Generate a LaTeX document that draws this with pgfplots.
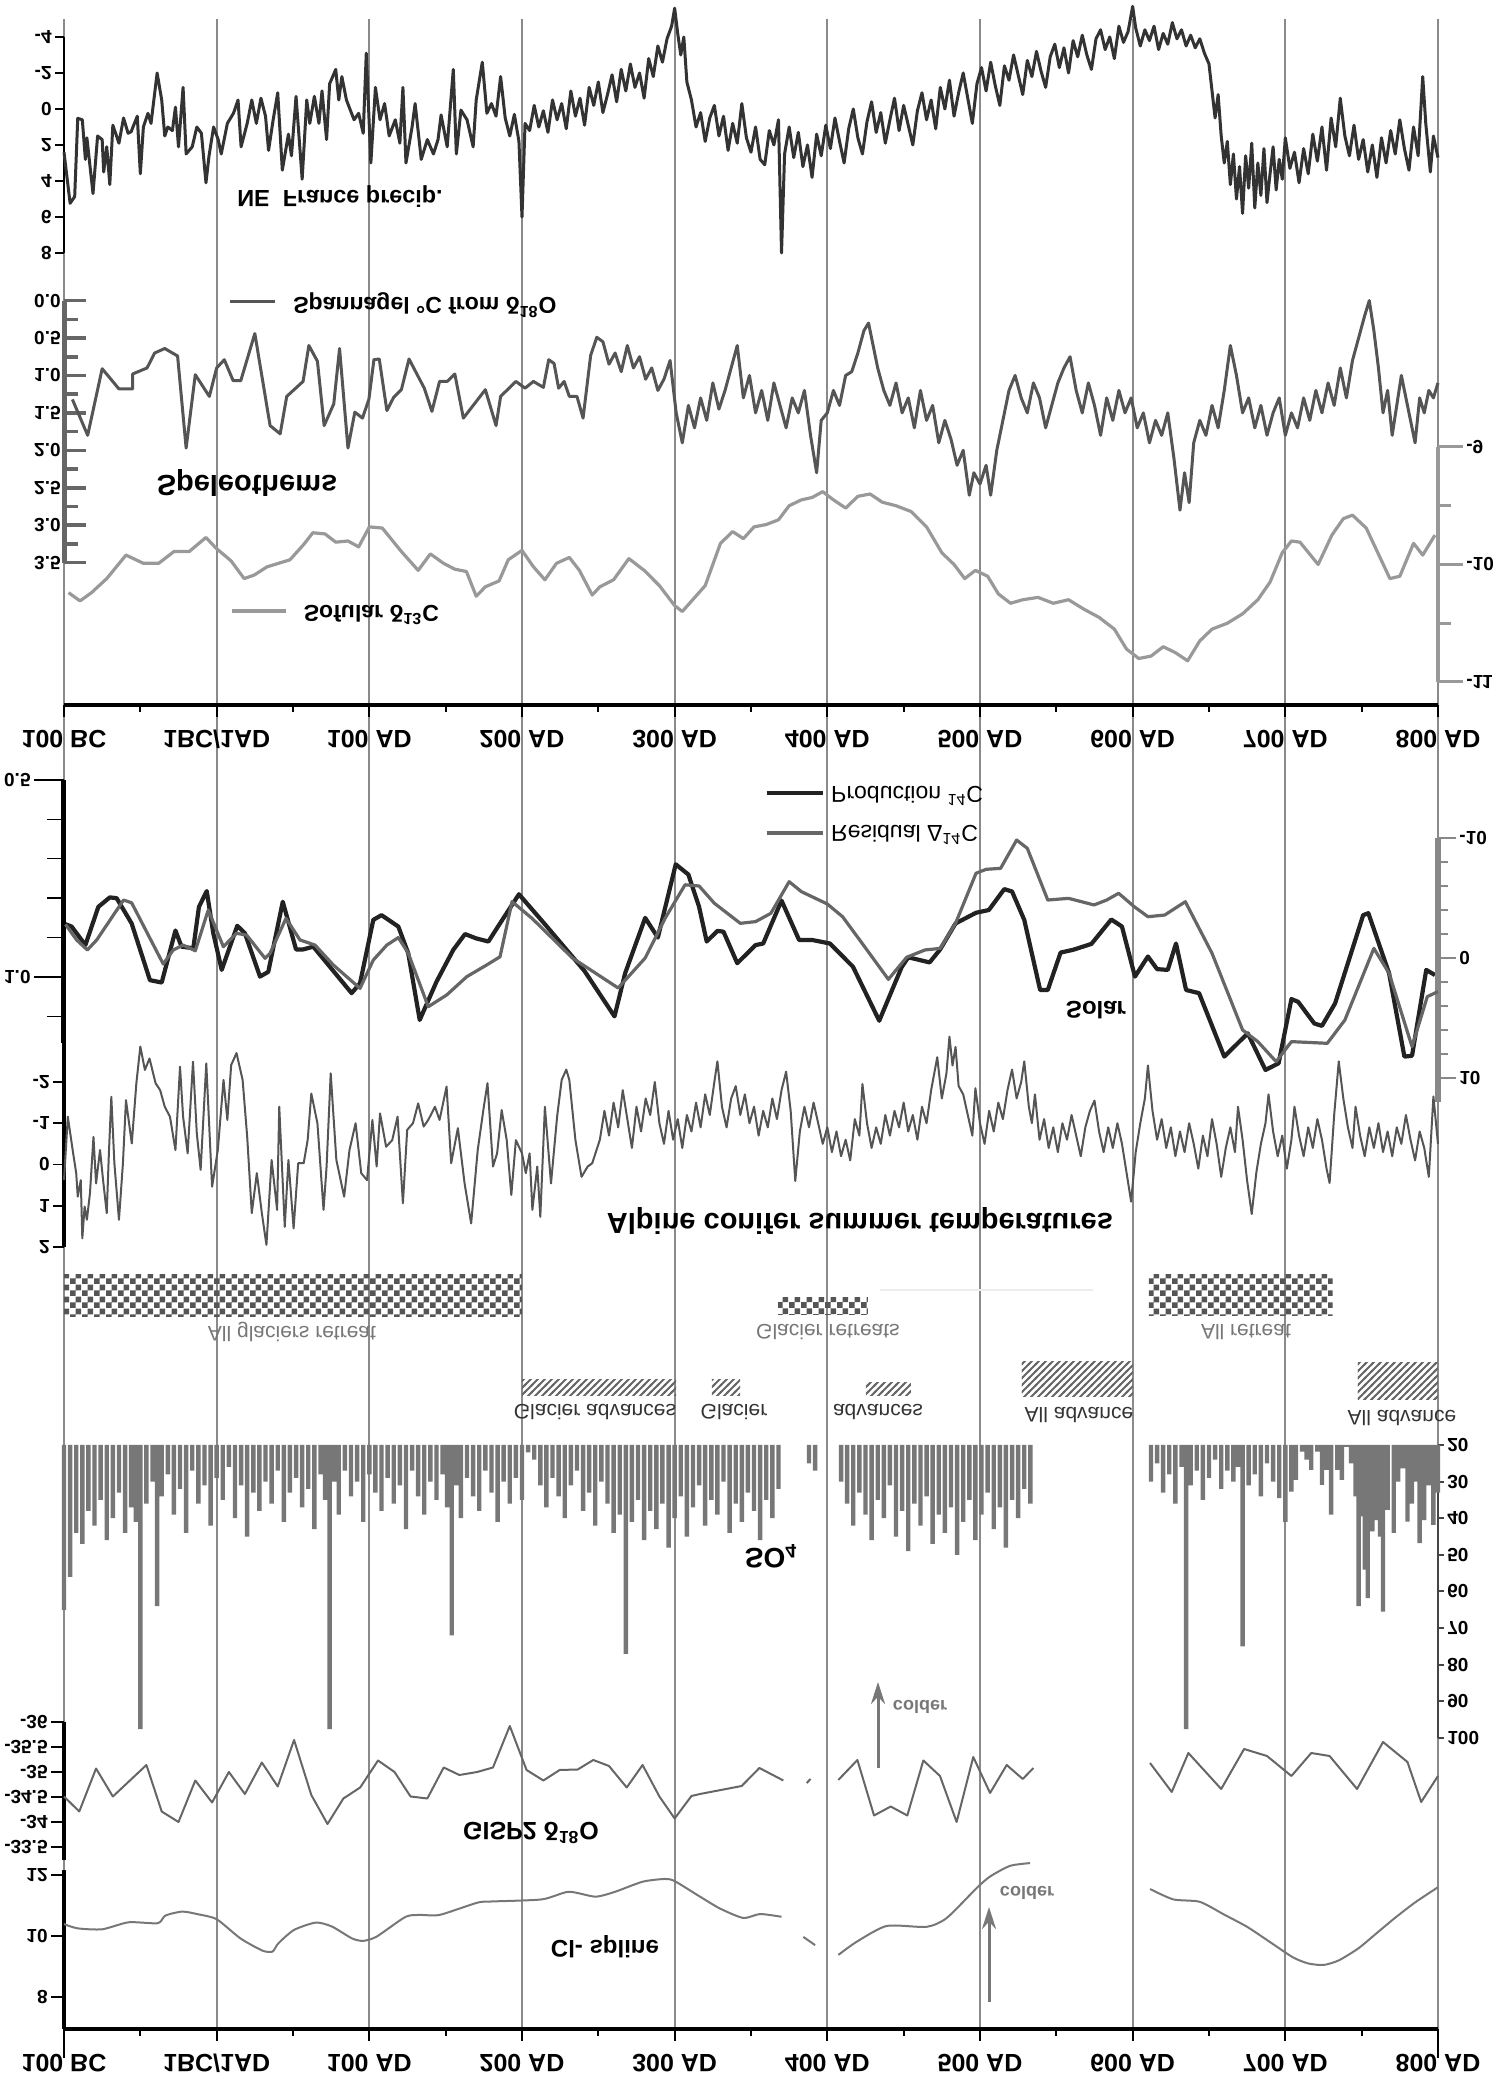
\documentclass[border=0pt]{standalone}
\usepackage{fontspec}
\setmainfont{Liberation Sans}
\usepackage{graphicx}
\usepackage{pgfplots}
\pgfplotsset{compat=1.18}
\usetikzlibrary{patterns,arrows.meta}
\newcommand\flip[1]{\scalebox{1}[-1]{#1}}
\newcommand\fb[1]{\bfseries\fontsize{#1}{#1}\selectfont}
\newcommand\fr[1]{\fontsize{#1}{#1}\selectfont}
\definecolor{c222}{HTML}{222222}
\definecolor{c333}{HTML}{333333}
\definecolor{c444}{HTML}{444444}
\definecolor{c555}{HTML}{555555}
\definecolor{c666}{HTML}{666666}
\definecolor{c777}{HTML}{777777}
\definecolor{c888}{HTML}{888888}
\definecolor{c999}{HTML}{999999}
\definecolor{gridc}{HTML}{8A8A8A}
\pgfdeclarepatternformonly{gchecker}{\pgfpointorigin}{\pgfqpoint{5.8pt}{5.8pt}}{\pgfqpoint{5.8pt}{5.8pt}}{%
  \pgfpathrectangle{\pgfpointorigin}{\pgfqpoint{2.9pt}{2.9pt}}%
  \pgfpathrectangle{\pgfqpoint{2.9pt}{2.9pt}}{\pgfqpoint{2.9pt}{2.9pt}}%
  \pgfusepath{fill}}
\pgfdeclarepatternformonly{ghatch}{\pgfqpoint{-1pt}{-1pt}}{\pgfqpoint{4.5pt}{4.5pt}}{\pgfqpoint{3.5pt}{3.5pt}}{%
  \pgfsetlinewidth{0.9pt}%
  \pgfpathmoveto{\pgfqpoint{-0.5pt}{-0.5pt}}\pgfpathlineto{\pgfqpoint{4pt}{4pt}}%
  \pgfusepath{stroke}}
\pgfplotsset{
  panel/.style={scale only axis, width=687pt, xmin=-100, xmax=800, clip=false,
    axis x line=none, xtick=\empty,
    yticklabel style={font=\fb{9.5}, inner sep=1.5pt}},
  xaxisstyle/.style={scale only axis, width=687pt, height=20pt, xmin=-100, xmax=800, ymin=0, ymax=1,
    axis x line*=bottom, axis y line=none, axis line style={black, line width=2pt},
    xtick={-100,0,100,200,300,400,500,600,700,800},
    xticklabels={\flip{100 BC},\flip{1BC/1AD},\flip{100 AD},\flip{200 AD},\flip{300 AD},\flip{400 AD},\flip{500 AD},\flip{600 AD},\flip{700 AD},\flip{800 AD}},
    minor xtick={-50,50,150,250,350,450,550,650,750},
    tick align=outside, major tick length=6pt, minor tick length=3.5pt,
    tick style={black, line width=1pt},
    xticklabel style={font=\fb{12.5}, anchor=center, yshift=-11pt}},
}
\begin{document}
\begin{tikzpicture}[x=0.5pt,y=0.5pt]
\useasboundingbox (0,0) rectangle (1503,2085);

% background vertical grid
\begin{axis}[scale only axis, width=687pt, height=1005pt, at={(32pt,28pt)}, anchor=south west,
  xmin=-100, xmax=800, ymin=0, ymax=1, xtick={-100,0,100,200,300,400,500,600,700,800},
  xticklabels={}, ytick=\empty, xmajorgrids, major grid style={color=gridc, line width=1pt},
  axis line style={draw=none}, tick style={draw=none}]
\end{axis}

% NE France precipitation
\begin{axis}[panel, at={(32pt,1024pt)}, anchor=north west, height=108pt,
  ymin=-4, ymax=8, y dir=reverse, axis y line*=left, axis line style={black, line width=1pt},
  ytick={-4,-2,0,2,4,6,8}, yticklabels={\flip{-4},\flip{-2},\flip{0},\flip{2},\flip{4},\flip{6},\flip{8}},
  tick align=outside, major tick length=4.5pt, tick style={black, line width=0.8pt}]
\addplot[c333, line width=1.5pt, line join=round] coordinates {
(-100,2.4) (-96,5.24) (-93,4.87) (-91,0.52) (-88,0.6) (-86,2.8) (-85,1.6) (-81,4.7) (-78,1.5) (-75,1.7) (-74,3.5) (-72,2.1) (-70,4.2) (-68,0.9) (-64,1.9) (-61,0.5) (-58,1.35) (-56,1.26) (-52,0.4) (-50,3.6) (-48,1.0) (-45,0.24) (-43,0.8) (-39,-2.0) (-36,-0.5) (-34,1.5) (-32,1.0) (-29,1.2) (-27,-0.1) (-25,2.1) (-22,-1.2) (-20,2.5) (-16,2.1) (-13,1.0) (-10,1.35) (-7,4.1) (-5,2.6) (-2,1.0) (1,1.7) (3,2.5) (7,0.8) (11,0.24) (14,-0.5) (16,2.1) (20,0.8) (23,-0.5) (26,0.8) (29,-0.6) (32,0.4) (34,2.3) (37,0.6) (40,-0.9) (43,3.4) (47,1.4) (49,2.6) (52,-0.7) (56,3.9) (59,-0.5) (61,0.8) (64,-0.7) (67,0.8) (69,-1.0) (72,1.7) (74,-1.4) (78,-2.2) (80,-0.5) (82,-1.8) (85,-0.5) (90,0.6) (93,0.24) (96,1.35) (98,-3.1) (101,3.0) (104,-1.2) (107,0.6) (110,-0.3) (113,1.5) (117,0.6) (120,1.9) (122,-1.2) (124,3.0) (128,1.0) (130,-0.3) (134,2.8) (138,1.7) (142,2.5) (145,1.7) (147,0.33) (151,2.1) (155,-2.2) (157,2.5) (160,0.06) (164,0.6) (168,2.1) (170,-0.5) (174,-2.6) (177,0.24) (180,-0.3) (183,0.4)
(186,-1.8) (189,0.5) (192,1.5) (195,0.3) (198,1.8) (200,6.0) (202,0.8) (205,1.2) (208,-0.2) (211,1.0) (214,0.1) (217,1.3) (220,-0.5) (223,0.6) (226,-0.3) (229,1.1) (232,-1.0) (235,0.4) (238,-0.6) (241,0.9) (244,-1.2) (247,-0.2) (250,-1.5) (253,0.2) (256,-0.8) (259,-1.9) (262,-0.4) (265,-2.2) (268,-1.0) (271,-2.5) (274,-1.2) (277,-2.0) (280,-0.6) (283,-2.8) (286,-1.8) (289,-3.5) (292,-2.6) (295,-3.9) (298,-4.6) (300,-5.6) (302,-4.2) (304,-3.0) (306,-4.0) (308,-1.5) (311,-0.5) (314,1.0) (317,0.2) (320,1.8) (323,0.5) (326,-0.2) (329,1.5) (332,0.4) (335,2.3) (338,0.8) (341,1.9) (344,-0.3) (347,1.6) (350,2.4) (353,1.0) (356,2.8) (359,3.1) (362,1.2) (365,2.0) (368,0.6) (370,8.0) (372,2.5) (375,1.0) (378,2.7) (381,1.3) (384,3.2) (387,2.0) (390,3.8) (393,1.4) (396,2.6) (399,0.9) (402,2.2) (405,0.5) (408,1.8) (411,3.0) (414,1.1) (417,0.0) (420,1.6) (423,2.5) (426,0.7) (429,-0.4) (432,1.3) (435,0.2) (438,1.9) (441,0.6) (444,-0.6) (447,1.2) (450,-0.2) (453,0.9) (456,2.0) (459,0.1) (462,-0.9) (465,0.6) (468,-0.5) (471,1.1) (474,-1.2) (477,0.0) (480,-1.6) (483,0.4) (486,-0.9) (489,-2.0) (492,-0.6) (495,0.8) (498,-1.4) (501,-2.3) (504,-1.0) (507,-2.6) (510,-1.3) (513,-0.2) (516,-2.4) (519,-1.6) (522,-3.0) (525,-1.9) (528,-0.8) (531,-2.7) (534,-1.8) (537,-3.2) (540,-2.1) (543,-1.2) (546,-2.9) (549,-3.6) (552,-2.3) (555,-3.4) (558,-2.0) (561,-3.8) (564,-2.9) (567,-4.1) (570,-3.0) (573,-2.2) (576,-3.9) (579,-4.4) (582,-3.3) (585,-4.0) (588,-2.8) (591,-4.6) (594,-3.7) (597,-4.3) (600,-5.7) (602,-4.5) (605,-3.5) (608,-4.4) (611,-3.8) (614,-4.6) (617,-3.3) (620,-4.2) (623,-3.6) (626,-4.8) (629,-3.9) (632,-4.4) (635,-3.5) (638,-4.1) (641,-3.4) (644,-3.9) (647,-3.1) (650,-2.5) (652,-1.0) (654,0.5) (656,-0.8) (658,1.5) (660,3.0) (662,1.8) (664,4.2) (666,2.5) (668,5.0) (670,3.2) (672,5.8) (674,2.6) (676,4.4) (678,1.9) (680,5.5) (682,3.0) (684,4.8) (686,2.2) (688,5.2) (690,3.6) (692,2.1) (694,4.5) (696,2.8) (698,3.9) (700,1.6) (703,3.3) (706,2.4) (709,4.1) (712,2.2) (715,3.6) (718,1.4) (721,2.9) (724,1.0) (727,3.4) (730,0.5) (733,2.1) (736,-0.6) (739,1.5) (742,2.6) (745,0.9) (748,2.8) (751,1.7) (754,3.5) (757,2.0) (760,3.8) (763,1.6) (766,3.0) (769,1.2) (772,2.5) (775,0.6) (778,2.2) (781,3.4) (784,1.0) (787,2.6) (790,-1.8) (792,0.8) (795,3.5) (797,1.5) (800,2.7)};
\end{axis}

% Spannagel
\begin{axis}[panel, at={(32pt,892.2pt)}, anchor=north west, height=131pt,
  ymin=0, ymax=3.5, y dir=reverse, axis y line*=left, axis line style={c666, line width=2.5pt},
  ytick={0,0.5,1,1.5,2,2.5,3,3.5},
  yticklabels={\flip{0.0},\flip{0.5},\flip{1.0},\flip{1.5},\flip{2.0},\flip{2.5},\flip{3.0},\flip{3.5}},
  minor ytick={0.25,0.75,1.25,1.75,2.25,2.75,3.25},
  tick align=inside, major tick length=11pt, minor tick length=7pt, tick style={c666, line width=1.8pt}]
\addplot[c555, line width=1.5pt, line join=round] coordinates {
(-94.5,1.32) (-84.5,1.80) (-75,0.91) (-64,1.18) (-55,1.18) (-55,0.98) (-45.6,0.90) (-40.6,0.70) (-34,0.64) (-25.6,0.74) (-20,1.97) (-14,0.99) (-4.8,1.28) (0,0.9) (5,0.79) (10.8,1.07) (15.8,1.07) (25,0.44) (35,1.67) (41.6,1.78) (45.9,1.28) (56.6,1.08) (60.4,0.60) (66,0.81) (70.4,1.67) (76.7,1.38) (80.5,0.64) (86,1.97) (90.5,1.49) (95.5,1.57) (99.7,1.32) (103,0.79) (106.5,0.78) (111.5,1.47) (116,1.29) (121,1.19) (126,0.78) (136,1.17) (141,1.48) (146,1.08) (151,1.08) (156,0.98) (161.6,1.57) (176,1.19) (183,1.67) (186,1.28) (196,1.08) (202,1.17) (207.5,1.08) (214,1.16) (217.5,0.79) (221,0.84) (224,1.17) (227.6,1.08) (231,1.28) (236,1.28) (240,1.57) (245,0.73) (249,0.49)
(253,0.55) (257,0.85) (261,0.7) (265,0.95) (269,0.6) (273,0.9) (277,0.75) (281,1.05) (285,0.9) (289,1.2) (293,1.05) (297,0.8) (301,1.5) (305,1.9) (309,1.4) (313,1.7) (317,1.3) (321,1.6) (325,1.1) (329,1.45) (333,1.2) (337,0.9) (341,0.6) (345,1.3) (349,1.0) (353,1.5) (357,1.2) (361,1.6) (365,1.1) (369,1.4) (373,1.7) (377,1.3) (381,1.5) (385,1.2) (389,1.8) (393,2.3) (396,1.6) (400,1.5) (404,1.2) (408,1.4) (412,1.0) (416,0.95) (420,0.7) (424,0.4) (427,0.3) (430,0.6) (433,0.9) (437,1.2) (441,1.4) (445,1.1) (449,1.5) (453,1.3) (457,1.7) (461,1.2) (465,1.6) (469,1.4) (473,1.9) (477,1.6) (481,1.85) (485,2.2) (489,2.0) (493,2.6) (496,2.3) (500,2.45) (504,2.2) (507,2.6) (511,2.0) (515,1.6) (519,1.2) (523,1.0) (527,1.3) (531,1.5) (535,1.1) (539,1.3) (543,1.7) (547,1.4) (551,1.1) (555,0.9) (559,0.75) (563,1.2) (567,1.5) (571,1.1) (575,1.4) (579,1.8) (583,1.3) (587,1.6) (591,1.2) (595,1.5) (599,1.3) (603,1.7) (607,1.5) (611,1.9) (615,1.6) (619,1.8) (623,1.5) (627,2.1) (631,2.8) (634,2.3) (637,2.7) (640,1.9) (644,1.6) (648,1.8) (652,1.4) (656,1.7) (660,1.2) (664,0.6) (668,1.0) (672,1.5) (676,1.3) (680,1.7) (684,1.4) (688,1.8) (692,1.5) (696,1.3) (700,1.8) (704,1.5) (708,1.7) (712,1.3) (716,1.6) (720,1.2) (724,1.5) (728,1.1) (732,1.4) (736,0.9) (740,1.3) (744,0.8) (748,0.5) (752,0.2) (755,0.0) (758,0.4) (761,0.9) (764,1.5) (767,1.2) (770,1.8) (773,1.4) (776,1.0) (779,1.3) (782,1.6) (785,1.9) (788,1.3) (791,1.5) (794,1.2) (797,1.3) (800,1.1)};
\end{axis}

% Sofular
\begin{axis}[panel, at={(32pt,819pt)}, anchor=north west, height=117.5pt,
  ymin=-11, ymax=-9, axis y line*=right, axis line style={c999, line width=2pt},
  ytick={-11,-10,-9}, yticklabels={\flip{-11},\flip{-10},\flip{-9}}, minor ytick={-10.5,-9.5},
  tick align=outside, major tick length=12.5pt, minor tick length=6.5pt, tick style={c999, line width=1.5pt}]
\addplot[c999, line width=1.6pt, line join=round] coordinates {
(-97,-10.24) (-89.5,-10.31) (-82,-10.24) (-72,-10.12) (-59.4,-9.92) (-48,-9.99) (-38,-9.99) (-28,-9.89) (-18,-9.89) (-7,-9.77) (-0.5,-9.86) (9.5,-9.97) (18,-10.12) (24.6,-10.09) (33,-10.02) (48,-9.96) (57,-9.83) (63,-9.73) (71,-9.74) (78,-9.81) (86,-9.8) (93,-9.85) (100,-9.68) (108.5,-9.69) (121,-9.89) (132,-10.05) (140,-9.91) (148.6,-9.99) (156,-10.04) (163.6,-10.06) (170,-10.27) (176,-10.19) (185,-10.14) (191,-9.96) (200,-9.88) (207.5,-10.02) (215,-10.13) (222.6,-9.99) (231,-9.94) (237.6,-10.05) (246,-10.26) (251,-10.19) (260,-10.13) (270,-9.95) (280,-10.05) (290,-10.18) (300,-10.35) (305,-10.4) (320,-10.18) (330,-9.82) (338,-9.72) (345,-9.78) (352,-9.68) (360,-9.66) (368,-9.62) (375,-9.5) (383,-9.45) (390,-9.43) (397,-9.38) (404,-9.45) (412,-9.52) (420,-9.42) (428,-9.4) (436,-9.47) (445,-9.5) (455,-9.55) (465,-9.68) (475,-9.9) (483,-10.0) (490,-10.12) (497,-10.05) (505,-10.1) (512,-10.25) (520,-10.33) (528,-10.3) (538,-10.28) (548,-10.33) (558,-10.3) (568,-10.38) (578,-10.45) (588,-10.55) (596,-10.72) (604,-10.8) (612,-10.78) (620,-10.7) (628,-10.75) (636,-10.82) (644,-10.65) (652,-10.55) (662,-10.5) (672,-10.42) (682,-10.3) (690,-10.15) (698,-9.9) (704,-9.8) (709.6,-9.81) (721.5,-10.0) (730.5,-9.75) (738,-9.61) (744,-9.58) (753,-9.69) (768.5,-10.12) (775,-10.1) (784,-9.82) (790,-9.92) (798,-9.75)};
\end{axis}

% middle time axis
\begin{axis}[xaxisstyle, at={(32pt,690pt)}, anchor=south west]
\end{axis}

% Solar: production (left axis)
\begin{axis}[panel, at={(32pt,652.5pt)}, anchor=north west, height=131.5pt,
  ymin=0.5, ymax=1.1675, y dir=reverse, axis y line*=left, axis line style={black, line width=2.5pt},
  ytick={0.5,1}, yticklabels={\flip{0.5},\flip{1.0}}, minor ytick={0.6,0.7,0.8,0.9,1.1},
  tick align=outside, major tick length=15pt, minor tick length=8.5pt, tick style={black, line width=0.7pt}]
\addplot[c222, line width=2.1pt, line join=round] coordinates {
(-99,0.866) (-95,0.872) (-86,0.919) (-77.5,0.822) (-70,0.798) (-65.5,0.8) (-55.7,0.864) (-43.7,1.008) (-36,1.014) (-27,0.882) (-23,0.923) (-15.3,0.927) (-11.6,0.822) (-6.5,0.782) (-2.2,0.889) (3.3,0.982) (13.5,0.87) (18.5,0.889) (28.4,0.999) (33.8,0.987) (43.3,0.809) (52,0.93) (56.7,0.93) (63.3,0.923) (88.4,1.041) (93.9,1.016) (102.6,0.855) (108,0.843) (119,0.872) (125.5,0.94) (133,1.109) (144,1.012) (155,0.931) (162.7,0.891) (170,0.902) (178,0.91) (185.6,0.864) (198,0.79) (215,0.866) (241,0.985) (260.6,1.1) (267.6,0.99) (280.7,0.85) (289,0.9) (300.7,0.714) (309,0.74) (316,0.822) (321,0.91) (328,0.883) (332,0.885) (341,0.965) (353,0.919) (358,0.915) (370,0.806) (381.5,0.906) (390,0.906) (401.7,0.915) (416.8,0.974) (434,1.111) (448.7,0.975) (453,0.95) (467,0.963) (473.9,0.93) (484,0.864) (497.4,0.837) (505.8,0.83) (515.9,0.777) (521,0.783) (529,0.855) (539.4,1.033) (544.4,1.033) (552.8,0.938) (561,0.931) (573,0.916) (586,0.854) (593,0.872) (601.5,0.999) (610,0.948) (616,0.98) (623,0.982) (628.4,0.915) (635,1.033) (643.5,1.041) (660,1.202) (675.4,1.143) (687,1.236) (695.6,1.219) (704,1.056) (708.4,1.063) (719,1.118) (724,1.124) (732.6,1.067) (751,0.843) (754.4,0.838) (768,0.991) (778,1.202) (783,1.2) (792.3,0.982) (798,0.995)};
\end{axis}

% Solar: residual (right axis)
\begin{axis}[panel, at={(32pt,623.5pt)}, anchor=north west, height=132pt,
  ymin=-10, ymax=12, y dir=reverse, axis y line*=right, axis line style={c888, line width=3pt},
  ytick={-10,0,10}, yticklabels={\flip{-10},\flip{0},\flip{10}}, minor ytick={-8,-6,-4,-2,2,4,6,8},
  tick align=outside, major tick length=9pt, minor tick length=5pt, tick style={c888, line width=1.2pt}]
\addplot[c666, line width=1.6pt, line join=round] coordinates {
(-99,-2.8) (-91.7,-1.5) (-84.7,-0.67) (-78.6,-1.5) (-61,-4.83) (-55.7,-4.6) (-35,0.5) (-28.4,-0.67) (-22,-1.08) (-14,-0.6) (-5.5,-4.0) (4.4,-0.94) (13,-2.06) (19.7,-1.9) (31.7,0.03) (35,-0.4) (45.4,-3.3) (54.6,-1.5) (64.4,-1.08) (76.4,0.58) (93.9,2.53) (102.6,0.17) (111.5,-1.08) (119,-1.7) (125.5,-0.4) (138.6,4.06) (150.7,3.08) (163.8,1.56) (176.9,0.58) (185.6,-0.1) (193.5,-4.7) (206.6,-3.3) (233,0) (263,2.5) (280.7,0) (293.7,-3.3) (306.8,-6.1) (316,-6.0) (326,-4.56) (343,-2.89) (353,-3.03) (363,-3.72) (375,-6.36) (383,-5.53) (400,-4.5) (410,-3.44) (422,-1.36) (440,1.78) (452,-0.06) (464,-0.67) (474,-0.8) (484,-2.89) (497.4,-7.06) (504,-7.39) (513.5,-7.47) (524,-9.83) (531,-9.14) (544.4,-4.83) (558,-4.97) (574.7,-4.42) (583,-4.83) (590.8,-5.39) (601,-4.28) (610,-3.44) (621,-3.58) (634.5,-4.69) (652,-0.39) (672,6.0) (682,6.97) (694,8.64) (704,6.97) (727.5,7.11) (739,5.17) (758,-0.8) (768,1.28) (783,7.39) (793,3.22) (800,2.8)};
\end{axis}

% Alpine conifer
\begin{axis}[panel, at={(32pt,521pt)}, anchor=north west, height=102pt,
  ymin=-2.945, ymax=2, y dir=reverse, axis y line*=left, axis line style={black, line width=2pt},
  ytick={-2,-1,0,1,2}, yticklabels={\flip{-2},\flip{-1},\flip{0},\flip{1},\flip{2}},
  tick align=outside, major tick length=5.5pt, tick style={black, line width=0.9pt}]
\addplot[c555, line width=1pt, line join=round] coordinates {
(-100,0.38) (-97.5,-1.16) (-94,-0.27) (-92,0.21) (-91,0.78) (-89,0.38) (-88,1.79) (-86.5,1.02) (-85,1.34) (-83,0.7) (-80.7,-0.67) (-79,0.46) (-76.4,-0.35) (-74.4,0.38) (-72,1.18) (-70.6,-0.27) (-69,-1.64) (-67,-0.03) (-64,1.34) (-61.4,-0.03) (-59.4,-1.56) (-55.6,-0.51) (-52.6,-1.97) (-50,-2.86) (-47,-2.29) (-44,-2.57) (-40,-1.97) (-37,-1.8) (-34,-1.4) (-30.6,-1.16) (-27,-0.35) (-24,-2.37) (-22,-1.16) (-19,-0.27) (-15.5,-2.49) (-13,-0.75) (-10.5,0.13) (-6.8,-2.45) (-3,0.54) (0.75,-0.35) (4.5,-2.05) (7,-1.08) (9.5,-2.41) (13,-2.7) (17,-2.05) (20,-0.67) (23,1.18) (26.3,0.21) (29.6,1.18) (32.6,1.95) (36,-0.11) (39.6,1.1) (41,-1.4) (44.6,1.51) (47,-0.11) (50.4,1.55) (53.4,-0.03) (57,-0.03) (59.6,-0.59) (62,-1.72) (66,-1.0) (70,1.1) (72,0.05) (74.7,-2.21) (78.4,-0.11) (83.5,0.78) (87,-0.35) (91,-1.0) (94.7,0.21) (98.5,0.38) (102,-1.08) (104.8,0.05) (107,-1.24) (111,-0.43) (115,-0.59) (118.5,-1.16) (122,0.94) (124.8,-0.84) (128.6,-1.0) (132,-1.48) (135.6,-0.92) (138.6,-1.08) (143,-1.4) (146,-1.08) (150.6,-1.89) (153.6,-0.03) (158,-0.88) (162.4,0.46) (166.7,1.43) (171,-0.35) (175,-1.4) (177.4,-1.97) (181,0.05) (183.7,-0.27) (186.7,-1.32) (190,-0.59) (193,0.74) (196,-0.59) (200,-0.27) (202.5,0.21) (205,-0.27) (206.8,1.1) (210,0.05) (212,1.27) (215,-1.4) (219,0.46) (223,-1.16) (226,-2.05) (229,-2.3) (231,-2.05) (235,-0.59) (239,0.3) (243,0.05) (246,-0.03) (251,-0.6)
(254,-1.3) (257,-0.7) (260,-1.5) (263,-0.9) (266,-1.8) (269,-1.1) (272,-0.4) (275,-1.4) (278,-0.8) (281,-1.6) (284,-1.2) (287,-2.0) (290,-1.0) (293,-0.5) (296,-1.3) (299,-0.6) (302,-1.1) (305,-0.4) (308,-1.2) (311,-0.8) (314,-1.5) (317,-0.9) (320,-1.7) (323,-1.2) (326,-2.0) (328,-2.5) (331,-1.4) (334,-0.9) (337,-1.6) (340,-1.9) (343,-1.2) (346,-1.7) (349,-1.0) (352,-1.4) (355,-0.7) (358,-1.3) (361,-0.9) (364,-1.6) (367,-1.1) (370,-1.8) (373,-2.25) (376,-1.3) (379,0.4) (382,-0.8) (385,-1.4) (388,-0.9) (391,-1.5) (394,-1.0) (397,-0.5) (400,-0.9) (403,-0.3) (406,-0.8) (409,-0.2) (412,-0.6) (415,-0.1) (418,-1.1) (421,-0.7) (423,-1.95) (426,-1.0) (429,-0.4) (432,-0.9) (435,-0.5) (438,-1.2) (441,-0.7) (444,-1.3) (447,-0.9) (450,-1.5) (453,-0.8) (456,-1.2) (459,-0.6) (462,-1.4) (465,-1.0) (468,-1.8) (472,-2.6) (475,-1.6) (478,-2.2) (480,-3.1) (482,-2.4) (484,-2.85) (486,-1.9) (489,-1.7) (492,-1.2) (495,-0.7) (497,-1.85) (500,-1.0) (503,-0.5) (506,-1.3) (509,-0.8) (512,-1.5) (515,-1.1) (518,-1.8) (521,-2.3) (524,-1.6) (527,-2.0) (529,-2.5) (532,-1.4) (534,-1.0) (536,-1.7) (539,-0.6) (542,-1.1) (545,-0.4) (548,-0.9) (551,-0.3) (554,-1.0) (557,-0.6) (560,-1.2) (563,-0.7) (566,-0.2) (569,-0.9) (572,-1.3) (575,-1.55) (578,-0.8) (581,-0.3) (584,-0.9) (587,-0.4) (590,-1.0) (593,-0.5) (596,0.2) (599,0.9) (602,-0.3) (605,-1.0) (608,-1.6) (610,-2.4) (613,-1.3) (616,-0.6) (619,-1.1) (622,-0.4) (625,-0.9) (628,-0.2) (631,-0.8) (634,-0.3) (637,-1.0) (640,-0.5) (643,0.1) (646,-0.7) (649,-0.2) (652,-1.1) (655,-0.5) (658,0.3) (661,-0.4) (664,-0.9) (667,-0.3) (669,-1.4) (672,-0.6) (675,0.4) (678,1.2) (681,0.2) (684,-0.5) (687,-1.0) (689,-1.7) (692,-0.8) (695,-0.2) (698,-0.7) (701,0.1) (704,-0.6) (706,-1.4) (709,-0.7) (712,-0.2) (715,-0.9) (718,-0.4) (721,-1.1) (724,-0.6) (727,0.1) (729,0.45) (732,-1.2) (735,-2.5) (738,-1.6) (741,-0.9) (744,-0.4) (746,-1.4) (749,-0.7) (752,-0.2) (755,-0.9) (758,-0.4) (761,-1.0) (764,-0.3) (767,-0.8) (770,-0.2) (773,-0.9) (776,-0.5) (779,-1.2) (782,-0.6) (785,-0.1) (788,-0.8) (791,-0.4) (794,0.3) (797,-1.65) (800,-0.5)};
\end{axis}

% Glacier retreats / advances
\begin{axis}[panel, at={(32pt,407.5pt)}, anchor=north west, height=75pt,
  ymin=1270, ymax=1420, y dir=reverse, axis y line=none, ytick=\empty]
\addplot[draw=none, pattern=gchecker, pattern color=c555] coordinates {(-100,1275) (200,1275) (200,1317) (-100,1317)} -- cycle;
\addplot[draw=none, pattern=gchecker, pattern color=c555] coordinates {(367.7,1298) (426.6,1298) (426.6,1315) (367.7,1315)} -- cycle;
\addplot[draw=none, pattern=gchecker, pattern color=c555] coordinates {(610.7,1275) (731,1275) (731,1316) (610.7,1316)} -- cycle;
\addplot[draw=none, pattern=ghatch, pattern color=c666] coordinates {(200,1380) (300.9,1380) (300.9,1396) (200,1396)} -- cycle;
\addplot[draw=none, pattern=ghatch, pattern color=c666] coordinates {(324.4,1380) (342.8,1380) (342.8,1396) (324.4,1396)} -- cycle;
\addplot[draw=none, pattern=ghatch, pattern color=c666] coordinates {(425.3,1383) (454.8,1383) (454.8,1396) (425.3,1396)} -- cycle;
\addplot[draw=none, pattern=ghatch, pattern color=c666] coordinates {(527.5,1362) (600.2,1362) (600.2,1397) (527.5,1397)} -- cycle;
\addplot[draw=none, pattern=ghatch, pattern color=c666] coordinates {(747.6,1363) (800,1363) (800,1400) (747.6,1400)} -- cycle;
\addplot[gray!15, line width=0.6pt] coordinates {(434.5,1290) (574,1290)};
\end{axis}

% SO4 (bars hang from 20)
\begin{axis}[panel, at={(32pt,320pt)}, anchor=north west, height=146.5pt,
  ymin=0, ymax=80, y dir=reverse, axis y line*=right, axis line style={c444, line width=1pt},
  ytick={0,10,20,30,40,50,60,70,80},
  yticklabels={\flip{20},\flip{30},\flip{40},\flip{50},\flip{60},\flip{70},\flip{80},\flip{90},\flip{100}},
  tick align=outside, major tick length=3pt, tick style={c444, line width=1pt}]
\addplot[ybar, bar width=2.2pt, fill=c777, draw=none, y filter/.expression={y-20}] coordinates {
(-100,65) (-96,56) (-92,44) (-88,47) (-84,38) (-80,42) (-76,35) (-72,46) (-68,40) (-64,33) (-60,44) (-56,37) (-53,41) (-50,97.6) (-46,36) (-42,30) (-39,64) (-36,34) (-32,28) (-28,39) (-24,32) (-20,44) (-16,27) (-12,36) (-8,31) (-4,42) (0,29) (4,35) (8,26) (12,40) (16,31) (20,45) (24,33) (28,38) (32,30) (36,36) (40,27) (44,41) (48,33) (52,29) (56,37) (60,32) (64,43) (68,28) (71,35) (74,97.6) (77,30) (80,39) (84,27) (88,34) (92,30) (96,41) (100,28) (104,33) (108,38) (112,29) (116,36) (120,31) (124,43) (128,27) (132,34) (136,39) (140,30) (144,35) (148,28) (151,37) (154,72) (157,31) (160,40) (164,29) (168,34) (172,38) (176,27) (180,33) (184,41) (188,30) (192,36) (196,29) (200,35) (204,22) (208,24) (212,31) (216,37) (220,29) (224,34) (228,40) (232,31) (236,27) (240,38) (244,33) (248,42) (252,30) (256,36) (260,44) (264,39) (268,77) (272,41) (276,35) (280,46) (284,38) (288,43) (292,36) (296,48) (300,40) (304,34) (308,45) (312,37) (316,31) (320,42) (324,35) (328,39) (332,30) (336,44) (340,36) (344,41) (348,33) (352,38) (356,46) (360,35) (364,40) (368,32)
(388,25) (392,27)
(409,30) (413,36) (417,42) (421,33) (425,39) (429,46) (433,35) (437,40) (441,31) (445,45) (449,38) (453,49) (457,36) (461,42) (465,34) (469,47) (473,39) (477,44) (481,37) (485,50) (489,41) (493,35) (497,46) (501,39) (505,33) (509,43) (513,37) (517,48) (521,35) (525,40) (529,32) (533,36)
(612,30) (616,25) (620,33) (624,28) (628,36) (632,26) (635,97.6) (638,31) (642,27) (646,35) (650,29) (654,24) (658,32) (662,27) (666,30) (669,26) (672,75) (676,31) (680,28) (684,34) (688,25) (692,30) (696,34.5) (700,41) (704,32.7) (707,29.5) (711,21.8) (714,24) (717,26.8) (721,21.8) (724,30.9) (727,26.8) (730,39) (734,26.8) (737,29.5) (740,20.5) (743,25) (746,34) (748,64) (750,39.5) (752,54) (754,61.8) (757,43.6) (760,40.5) (762,45) (764,65.5) (767,37.7) (771,44) (774,30) (777,26.4) (780,40.9) (783,36) (785,30) (788,46.8) (791,40.5) (794,31) (797,41.8) (800,33)};
\end{axis}

% GISP2 d18O
\begin{axis}[panel, at={(32pt,181.5pt)}, anchor=north west, height=69pt,
  ymin=-36, ymax=-33.24, y dir=reverse, axis y line*=left, axis line style={black, line width=2pt},
  ytick={-36,-35.5,-35,-34.5,-34,-33.5},
  yticklabels={\flip{-36},\flip{-35.5},\flip{-35},\flip{-34.5},\flip{-34},\flip{-33.5}},
  tick align=outside, major tick length=6.5pt, tick style={black, line width=0.9pt}]
\addplot[c666, line width=1pt, line join=round] coordinates {
(-100,-34.51) (-90,-34.21) (-79,-35.07) (-68,-34.51) (-46,-35.14) (-36,-34.21) (-25,-34.0) (-14,-34.83) (-3,-34.39) (8,-35.0) (18.5,-34.56) (29.6,-35.19) (40,-34.71) (50.7,-35.64) (62,-34.54) (72.6,-33.96) (83,-34.47) (94,-34.69) (105.7,-35.23) (116.5,-35.0) (127,-34.51) (138,-34.47) (148.7,-35.09) (159,-34.94) (170.6,-35.0) (181,-35.09) (192,-35.92) (203,-35.04) (214,-34.83) (224.7,-35.04) (236.5,-35.05) (246.7,-35.24) (257,-35.12) (268.6,-34.69) (279,-35.14) (290,-34.51) (300,-34.07) (311,-34.52) (316.6,-34.56) (343.9,-34.72) (355.5,-35.08) (371.2,-34.83)};
\addplot[c666, line width=1pt] coordinates {(386.5,-34.78) (389,-34.86)};
\addplot[c666, line width=1pt, line join=round] coordinates {
(407.2,-34.84) (419.7,-35.24) (430.6,-34.13) (441.5,-34.31) (452.4,-34.13) (462.9,-35.23) (473.8,-34.92) (484.7,-34.0) (495.6,-35.3) (506.6,-34.58) (517.5,-35.14) (528,-34.86) (535,-35.08)};
\addplot[c666, line width=1pt, line join=round] coordinates {
(611.4,-35.18) (625.6,-34.6) (636.5,-35.38) (658,-34.66) (673,-35.46) (688,-35.32) (704,-34.92) (717,-35.38) (729,-35.32) (747,-34.66) (764,-35.6) (780,-35.2) (789,-34.4) (800,-34.92)};
\end{axis}

% Cl- spline
\begin{axis}[panel, at={(32pt,28pt)}, anchor=south west, height=79.5pt,
  ymin=6.951, ymax=12.164, axis y line*=left, axis line style={black, line width=2pt},
  ytick={8,10,12}, yticklabels={\flip{8},\flip{10},\flip{12}},
  tick align=outside, major tick length=6.5pt, tick style={black, line width=0.9pt}]
\addplot[c777, line width=1pt, smooth, tension=0.4] coordinates {
(-100,10.39) (-91,10.25) (-75,10.22) (-57.6,10.45) (-38.6,10.42) (-33.6,10.67) (-22.5,10.8) (-12,10.71) (0,10.55) (15.6,9.92) (30,9.52) (36.6,9.49) (40.4,9.76) (50.7,10.2) (65,10.44) (75.5,10.31) (88.7,9.92) (96,9.84) (104.8,9.98) (123.8,10.63) (134,10.69) (146,10.69) (170.6,11.09) (179.4,11.13) (213,11.2) (230.6,11.45) (248,11.29) (261,11.45) (279,11.78) (293.5,11.87) (300,11.8) (316.6,11.29) (329.7,10.9) (345,10.59) (355.9,10.72) (370,10.63)};
\addplot[c777, line width=1pt] coordinates {(384.3,9.97) (392,9.7)};
\addplot[c777, line width=1pt, smooth, tension=0.4] coordinates {
(407.2,9.38) (419.2,9.81) (438.9,10.33) (465,10.3) (478.2,10.59) (497.8,11.57) (506.6,11.95) (519.7,12.3) (532.8,12.39)};
\addplot[c777, line width=1pt, smooth, tension=0.4] coordinates {
(611.4,11.54) (626.6,11.2) (644,11.12) (660,10.7) (675,10.3) (690,9.8) (705,9.3) (715,9.1) (725,9.05) (735,9.2) (748,9.6) (760,10.1) (772,10.6) (785,11.1) (800,11.6)};
\end{axis}

% bottom time axis
\begin{axis}[xaxisstyle, at={(32pt,28pt)}, anchor=south west,
  extra x ticks={-100,800}, extra x tick labels={}, extra x tick style={major tick length=14.5pt}]
\end{axis}

% ---- annotations (picture pixel frame) ----
\node[font=\fb{11.7}] at (340,1888) {\flip{NE\ \ France precip.}};
\draw[c555, line width=1.5pt] (229.6,1783) -- (274.8,1783);
\node[font=\fb{11.5}, anchor=west, inner sep=0pt] at (293,1780) {\flip{Spannagel °C from δ\textsuperscript{18}O}};
\node[font=\fb{14.5}] at (247,1602) {\flip{Speleothems}};
\draw[c999, line width=1.7pt] (231.5,1474) -- (286.3,1474);
\node[font=\fb{11.5}, anchor=west, inner sep=0pt] at (303.5,1470) {\flip{Sofular δ\textsuperscript{13}C}};
\draw[c222, line width=2.2pt] (766.7,1292) -- (823,1292);
\node[font=\fr{11.5}, anchor=west, inner sep=0pt] at (830.8,1289) {\flip{Production \textsuperscript{14}C}};
\draw[c666, line width=1.6pt] (766.7,1252) -- (823,1252);
\node[font=\fr{11.5}, anchor=west, inner sep=0pt] at (830.8,1250) {\flip{Residual Δ\textsuperscript{14}C}};
\node[font=\fb{12}] at (1096,1075) {\flip{Solar}};
\node[font=\fb{14.5}] at (860,864) {\flip{Alpine conifer summer temperatures}};
\node[font=\fr{10.5}, text=c777] at (292,753) {\flip{All glaciers retreat}};
\node[font=\fr{10.5}, text=c777] at (828,753) {\flip{Glacier retreats}};
\node[font=\fr{10.5}, text=c777] at (1246,753) {\flip{All retreat}};
\node[font=\fr{10.5}, text=c333] at (595,673) {\flip{Glacier advances}};
\node[font=\fr{10.5}, text=c333] at (734,673) {\flip{Glacier}};
\node[font=\fr{10.5}, text=c333] at (878,673) {\flip{advances}};
\node[font=\fr{10.5}, text=c333] at (1079,670) {\flip{All advance}};
\node[font=\fr{10.5}, text=c333] at (1402,667) {\flip{All advance}};
\node[font=\fb{14}] at (771,529) {\flip{SO\textsubscript{4}}};
\draw[c777, line width=1.5pt, -{Stealth[length=11pt,width=7pt]}] (878,317) -- (878,403);
\node[font=\fb{9}, text=c777] at (920,378) {\flip{colder}};
\draw[c777, line width=1.5pt, -{Stealth[length=11pt,width=7pt]}] (989,83) -- (989,178);
\node[font=\fb{9}, text=c777] at (1027,192) {\flip{colder}};
\node[font=\fb{12.5}] at (531,252) {\flip{GISP2 δ\textsuperscript{18}O}};
\node[font=\fb{12}] at (605,138) {\flip{Cl- spline}};
\end{tikzpicture}
\end{document}
